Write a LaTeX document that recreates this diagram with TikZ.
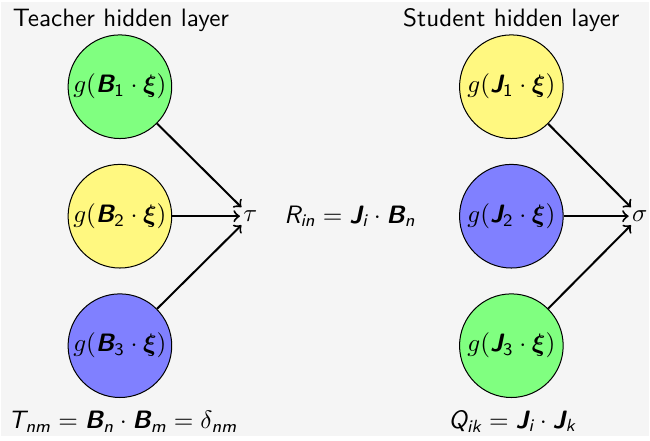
\documentclass[tikz,border=0pt]{standalone}
\usepackage{amsmath,amssymb}
\newcommand{\vb}[1]{\text{\sffamily\bfseries\itshape #1}}
\newcommand{\si}[1]{\text{\sffamily\itshape #1}}
\newcommand{\sn}[1]{\text{\sffamily #1}}
\begin{document}
\sffamily
\begin{tikzpicture}[x=0.396pt, y=-0.396pt, >=to, thick]
\tikzset{unit/.style={circle, draw, thin, minimum size=41.2pt, inner sep=0pt}}
\fill[black!4] (0,0) rectangle (650,436);
\node at (120,18) {Teacher hidden layer};
\node at (512,18) {Student hidden layer};
\node[unit, fill=green!50] (t1) at (119,85) {$g(\vb{B}_{\sn{1}}\cdot\boldsymbol{\xi})$};
\node[unit, fill=yellow!50] (t2) at (119,215) {$g(\vb{B}_{\sn{2}}\cdot\boldsymbol{\xi})$};
\node[unit, fill=blue!50] (t3) at (119,345) {$g(\vb{B}_{\sn{3}}\cdot\boldsymbol{\xi})$};
\node[unit, fill=yellow!50] (s1) at (512,85) {$g(\vb{J}_{\sn{1}}\cdot\boldsymbol{\xi})$};
\node[unit, fill=blue!50] (s2) at (512,215) {$g(\vb{J}_{\sn{2}}\cdot\boldsymbol{\xi})$};
\node[unit, fill=green!50] (s3) at (512,345) {$g(\vb{J}_{\sn{3}}\cdot\boldsymbol{\xi})$};
\node[inner sep=1pt] (tau) at (250,215) {$\tau$};
\node[inner sep=1pt] (sigma) at (641,215) {$\sigma$};
\draw[->] (t1) -- (tau);
\draw[->] (t2) -- (tau);
\draw[->] (t3) -- (tau);
\draw[->] (s1) -- (sigma);
\draw[->] (s2) -- (sigma);
\draw[->] (s3) -- (sigma);
\node (overlap) at (350,215) {$\si{R}_{\si{in}} = \vb{J}_{\si{i}}\cdot\vb{B}_{\si{n}}$};
\node (teach) at (122,421) {$\si{T}_{\si{nm}} = \vb{B}_{\si{n}}\cdot\vb{B}_{\si{m}} = \delta_{\si{nm}}$};
\node (stud) at (513,421) {$\si{Q}_{\si{ik}} = \vb{J}_{\si{i}}\cdot\vb{J}_{\si{k}}$};
\end{tikzpicture}
\end{document}
